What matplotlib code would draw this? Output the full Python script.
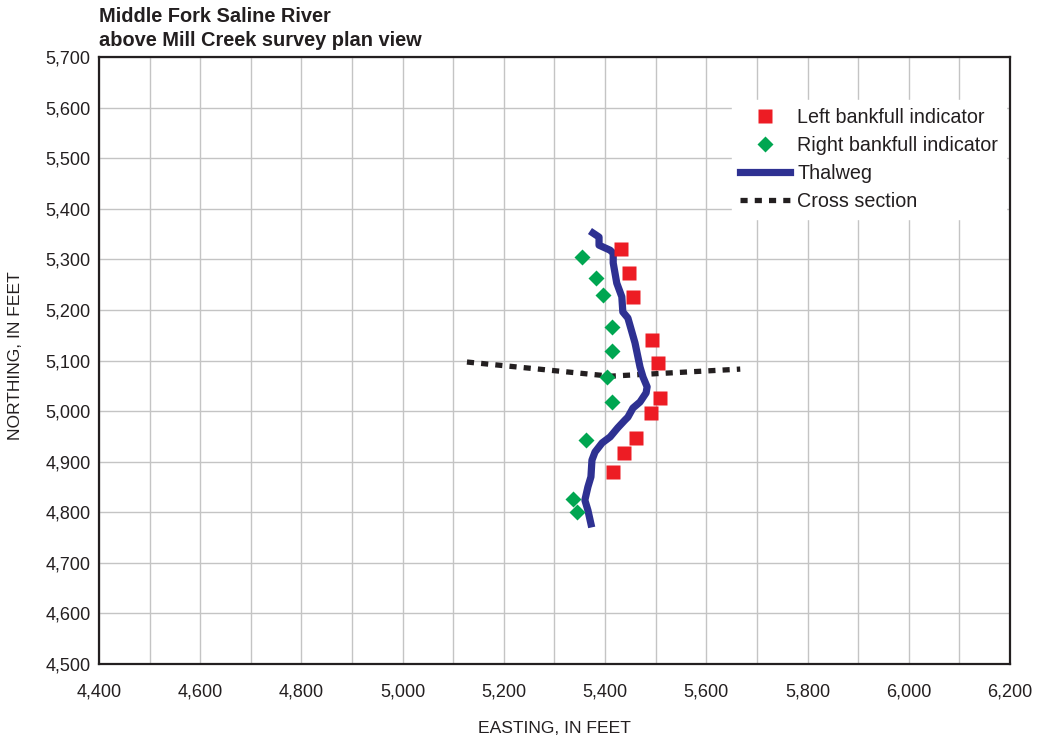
import matplotlib
matplotlib.use("Agg")
import matplotlib.pyplot as plt
from matplotlib.ticker import MultipleLocator, FuncFormatter

plt.rcParams['font.family'] = ['Liberation Sans', 'DejaVu Sans']

TEXT = '#231F20'

# Left bankfull indicator survey points (easting, northing), feet
left_e = [5431, 5447, 5455, 5493, 5505, 5509, 5491, 5461, 5437, 5416]
left_n = [5320, 5273, 5226, 5141, 5095, 5026, 4996, 4947, 4917, 4880]

# Right bankfull indicator survey points
right_e = [5354, 5382, 5396, 5413, 5413, 5404, 5414, 5363, 5336, 5345]
right_n = [5305, 5263, 5229, 5167, 5119, 5067, 5018, 4942, 4827, 4800]

# Thalweg trace
thal_e = [5376, 5388, 5388, 5410, 5416, 5416, 5423, 5433, 5435, 5445, 5459,
          5469, 5475, 5483, 5481, 5469, 5455, 5445, 5439, 5425, 5410, 5394,
          5380, 5374, 5372, 5366, 5360, 5366, 5372]
thal_n = [5352, 5344, 5328, 5318, 5312, 5293, 5253, 5226, 5196, 5184, 5135,
          5087, 5067, 5048, 5036, 5018, 5006, 4988, 4982, 4967, 4949, 4937,
          4919, 4903, 4870, 4850, 4824, 4804, 4777]

# Cross section line
xs_e = [5127, 5410, 5667]
xs_n = [5097, 5069, 5083]

W, H = 1039, 740
fig = plt.figure(figsize=(W / 100, H / 100), dpi=100)
ax = fig.add_axes([99 / W, 1 - 664 / H, 911 / W, 607 / H])

ax.plot(xs_e, xs_n, color='#231F20', lw=3.8, linestyle=(0, (1.35, 1.35)),
        dash_capstyle='butt', label='Cross section', zorder=3)
ax.plot(thal_e, thal_n, color='#2E3192', lw=5.2, solid_joinstyle='round',
        label='Thalweg', zorder=4)
ax.plot(left_e, left_n, linestyle='none', marker='s', ms=10, color='#ED1C24',
        mec='none', label='Left bankfull indicator', zorder=5)
ax.plot(right_e, right_n, linestyle='none', marker='D', ms=8, color='#00A651',
        mec='none', label='Right bankfull indicator', zorder=5)

ax.set_xlim(4400, 6200)
ax.set_ylim(4500, 5700)
ax.xaxis.set_major_locator(MultipleLocator(200))
ax.xaxis.set_minor_locator(MultipleLocator(100))
ax.yaxis.set_major_locator(MultipleLocator(100))
fmt = FuncFormatter(lambda v, p: f"{int(round(v)):,}")
ax.xaxis.set_major_formatter(fmt)
ax.yaxis.set_major_formatter(fmt)
ax.grid(True, which='both', color='#C4C4C4', lw=1.0)
ax.set_axisbelow(True)
ax.tick_params(which='both', length=0, labelsize=13, colors=TEXT)
ax.tick_params(axis='x', pad=14)
ax.tick_params(axis='y', pad=6)
for s in ax.spines.values():
    s.set_color('#231F20')
    s.set_linewidth(1.6)

ax.set_xlabel('EASTING, IN FEET', fontsize=12.6, color=TEXT, labelpad=15)
ax.set_ylabel('NORTHING, IN FEET', fontsize=12.6, color=TEXT)
ax.yaxis.set_label_coords(23 / W, (740 - 356) / H, transform=fig.transFigure)

fig.text(99 / W, 1 - 21.5 / H, 'Middle Fork Saline River', fontsize=14.4,
         fontweight='bold', color=TEXT, ha='left', va='baseline')
fig.text(99 / W, 1 - 45.5 / H, 'above Mill Creek survey plan view', fontsize=14.4,
         fontweight='bold', color=TEXT, ha='left', va='baseline')

handles, labels = ax.get_legend_handles_labels()
order = [2, 3, 1, 0]
leg = ax.legend([handles[i] for i in order], [labels[i] for i in order],
                loc='upper right',
                bbox_to_anchor=((1006 - 99) / 911, (664 - 100) / 607),
                borderaxespad=0, frameon=True, fancybox=False, framealpha=1,
                edgecolor='white', facecolor='white', fontsize=14.2,
                handlelength=2.55, handletextpad=0.36, labelspacing=0.465,
                borderpad=0.4)
for t in leg.get_texts():
    t.set_color(TEXT)

fig.savefig('out.png', dpi=100, facecolor='white')
